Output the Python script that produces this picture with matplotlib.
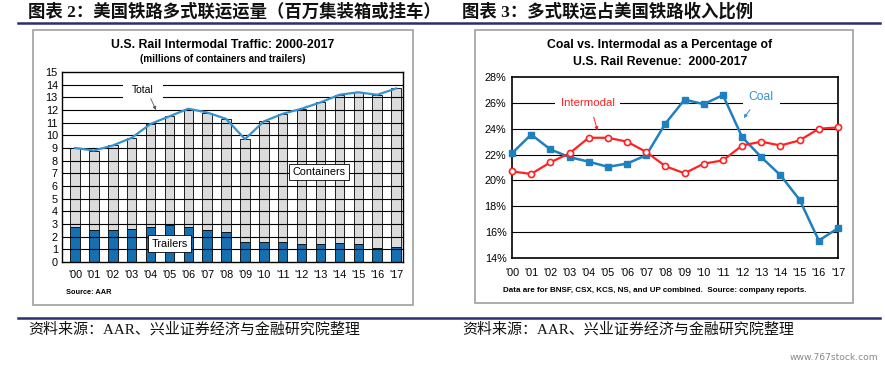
import matplotlib.pyplot as plt
from matplotlib.patches import Rectangle
from matplotlib.lines import Line2D

plt.rcParams['font.family'] = ['Liberation Sans', 'Noto Sans CJK SC', 'DejaVu Sans']

# --- data ---
years = ["'00", "'01", "'02", "'03", "'04", "'05", "'06", "'07", "'08", "'09",
         "'10", "'11", "'12", "'13", "'14", "'15", "'16", "'17"]
total = [9.0, 8.8, 9.2, 9.8, 10.9, 11.5, 12.1, 11.8, 11.3, 9.7,
         11.1, 11.7, 12.1, 12.6, 13.2, 13.4, 13.2, 13.7]
trailers = [2.8, 2.5, 2.5, 2.6, 2.8, 2.9, 2.8, 2.5, 2.4, 1.6,
            1.6, 1.6, 1.4, 1.4, 1.5, 1.4, 1.1, 1.2]
containers = [t - r for t, r in zip(total, trailers)]

intermodal = [20.7, 20.5, 21.4, 22.1, 23.3, 23.3, 23.0, 22.2, 21.1, 20.55,
              21.3, 21.55, 22.7, 23.0, 22.7, 23.1, 24.0, 24.1]
coal = [22.1, 23.55, 22.4, 21.8, 21.45, 21.05, 21.3, 21.95, 24.4, 26.25,
        25.9, 26.6, 23.35, 21.8, 20.4, 18.5, 15.35, 16.3]

W, H = 885, 368
fig = plt.figure(figsize=(W / 100, H / 100), dpi=100)
fig.patch.set_facecolor('white')


def fx(px):
    return px / W


def fy(py):
    return 1 - py / H


serif_cjk = ['Liberation Serif', 'Noto Sans CJK SC', 'DejaVu Sans']
navy = '#2b2d6e'

# --- page headers and footers ---
fig.text(fx(28), fy(12), '图表 2：美国铁路多式联运运量（百万集装箱或挂车）', family=serif_cjk,
         fontsize=12.5, fontweight='bold', va='center', color='#111111')
fig.text(fx(462), fy(12), '图表 3：多式联运占美国铁路收入比例', family=serif_cjk,
         fontsize=12.5, fontweight='bold', va='center', color='#111111')
fig.add_artist(Line2D([fx(18), fx(880)], [fy(23), fy(23)], color=navy, lw=1.8))
fig.add_artist(Line2D([fx(18), fx(880)], [fy(318), fy(318)], color=navy, lw=1.8))
fig.text(fx(28), fy(329), '资料来源：AAR、兴业证券经济与金融研究院整理', family=serif_cjk,
         fontsize=10.8, va='center', color='#111111')
fig.text(fx(462), fy(329), '资料来源：AAR、兴业证券经济与金融研究院整理', family=serif_cjk,
         fontsize=10.8, va='center', color='#111111')
fig.text(fx(878), fy(357), 'www.767stock.com', fontsize=6.6, ha='right',
         va='center', color='#888888', family=['DejaVu Sans'])

# chart frames
for x0, x1, y0, y1 in [(33, 413, 30, 305), (475, 853, 30, 303)]:
    fig.add_artist(Rectangle((fx(x0), fy(y1)), fx(x1) - fx(x0), fy(y0) - fy(y1),
                             transform=fig.transFigure, fill=False,
                             edgecolor='#a0a0a0', lw=1.2))

# --- left chart: stacked bars ---
ax1 = fig.add_axes([fx(62), fy(262), fx(403) - fx(62), fy(72) - fy(262)])
x = list(range(len(years)))
ax1.bar(x, trailers, width=0.5, color='#1470b0', edgecolor='black', lw=0.6, zorder=2)
ax1.bar(x, containers, bottom=trailers, width=0.5, color='#dcdcdc',
        edgecolor='black', lw=0.6, zorder=2)
for v in range(1, 15):
    ax1.axhline(v, color='black', lw=0.8, zorder=2.5)
ax1.plot(x, total, color='#3592cf', lw=1.6, zorder=4)
ax1.set_xlim(-0.69, 17.37)
ax1.set_ylim(0, 15)
ax1.set_yticks(range(0, 16))
ax1.set_xticks(x)
ax1.set_xticklabels(years)
ax1.tick_params(length=0, labelsize=7.8, pad=3)
ax1.tick_params(axis='x', pad=6)
for s in ax1.spines.values():
    s.set_linewidth(1.0)

ax1.text(3.6, 13.55, 'Total', fontsize=7.5, ha='center', va='center', zorder=6,
         bbox=dict(boxstyle='square,pad=0.9', fc='white', ec='none'))
ax1.annotate('', xy=(4.35, 11.8), xytext=(3.95, 13.1),
             arrowprops=dict(arrowstyle='-|>', color='#555555', lw=0.6,
                             mutation_scale=5), zorder=6)
ax1.text(12.92, 7.1, 'Containers', fontsize=7.8, ha='center', va='center', zorder=6,
         bbox=dict(boxstyle='square,pad=0.3', fc='white', ec='black', lw=0.6))
ax1.text(5.0, 1.46, 'Trailers', fontsize=7.8, ha='center', va='center', zorder=6,
         bbox=dict(boxstyle='square,pad=0.3', fc='white', ec='black', lw=0.6))

fig.text(fx(223), fy(45), 'U.S. Rail Intermodal Traffic: 2000-2017', fontsize=8.8,
         fontweight='bold', ha='center', va='center')
fig.text(fx(223), fy(59), '(millions of containers and trailers)', fontsize=7.1,
         fontweight='bold', ha='center', va='center')
fig.text(fx(66), fy(293), 'Source: AAR', fontsize=5.3, fontweight='bold', va='center')

# --- right chart: revenue share lines ---
ax2 = fig.add_axes([fx(512), fy(258), fx(838) - fx(512), fy(77) - fy(258)])
for v in range(16, 28, 2):
    ax2.axhline(v, color='black', lw=0.8, zorder=1)
ax2.plot(x, coal, color='#1f80c0', lw=1.8, marker='s', markersize=4.5,
         zorder=3, clip_on=False)
ax2.plot(x, intermodal, color='#ff2222', lw=1.6, marker='o', markersize=4.4,
         markerfacecolor='white', markeredgewidth=1.2, zorder=4, clip_on=False)
ax2.set_xlim(0, 17)
ax2.set_ylim(14, 28)
ax2.set_yticks(range(14, 29, 2))
ax2.set_yticklabels([f'{v}%' for v in range(14, 29, 2)])
ax2.set_xticks(x)
ax2.set_xticklabels(years)
ax2.tick_params(length=0, labelsize=7.8, pad=4)
ax2.tick_params(axis='x', pad=7)
for s in ax2.spines.values():
    s.set_linewidth(1.2)

ax2.text(3.95, 25.98, 'Intermodal', fontsize=8.2, color='#ff2222', ha='center',
         va='center', zorder=6, bbox=dict(boxstyle='square,pad=0.5', fc='white', ec='none'))
ax2.annotate('', xy=(4.5, 23.65), xytext=(4.22, 25.1),
             arrowprops=dict(arrowstyle='-|>', color='#ff2222', lw=0.7,
                             mutation_scale=5), zorder=6)
ax2.text(13.0, 26.45, 'Coal', fontsize=8.7, color='#3592cf', ha='center',
         va='center', zorder=6, bbox=dict(boxstyle='square,pad=0.5', fc='white', ec='none'))
ax2.annotate('', xy=(12.0, 24.65), xytext=(12.5, 25.65),
             arrowprops=dict(arrowstyle='-|>', color='#3592cf', lw=0.7,
                             mutation_scale=5), zorder=6)

fig.text(fx(660), fy(45), 'Coal vs. Intermodal as a Percentage of', fontsize=8.8,
         fontweight='bold', ha='center', va='center')
fig.text(fx(660), fy(62), 'U.S. Rail Revenue:  2000-2017', fontsize=8.8,
         fontweight='bold', ha='center', va='center')
fig.text(fx(503), fy(290), 'Data are for BNSF, CSX, KCS, NS, and UP combined.  '
         'Source: company reports.', fontsize=5.8, fontweight='bold', va='center')

fig.savefig('out.png', dpi=100)
